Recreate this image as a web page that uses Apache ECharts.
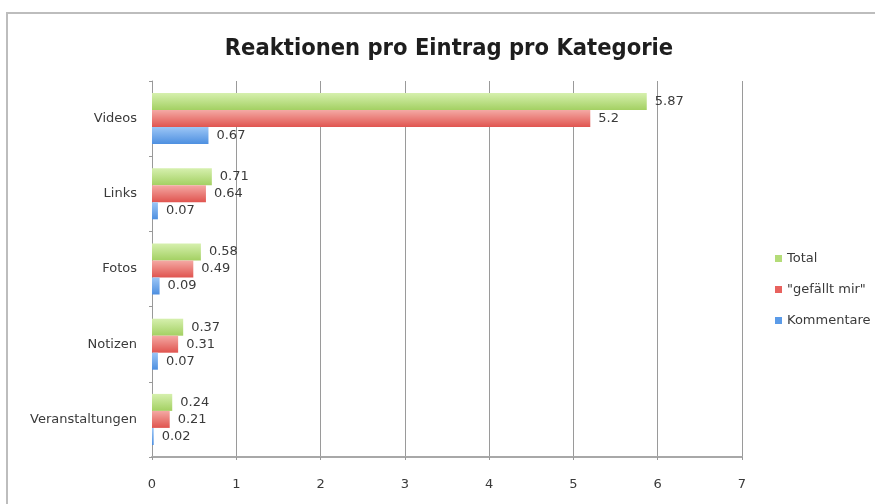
<!DOCTYPE html>
<html>
<head>
<meta charset="utf-8">
<script src="https://cdn.jsdelivr.net/npm/echarts@6/dist/echarts.min.js"></script>
<style>
  html, body { margin: 0; padding: 0; background: #fff; }
  #chart { width: 875px; height: 504px; }
</style>
</head>
<body>
<div id="chart"></div>
<script>
// Daten
const kategorien = ['Videos', 'Links', 'Fotos', 'Notizen', 'Veranstaltungen']
const total = [5.87, 0.71, 0.58, 0.37, 0.24]
const gefaellt = [5.2, 0.64, 0.49, 0.31, 0.21]
const kommentare = [0.67, 0.07, 0.09, 0.07, 0.02]
const serienNamen = ['Total', '"gefällt mir"', 'Kommentare']

const font = 'DejaVu Sans'

const verlauf = (hell, dunkel) => new echarts.graphic.LinearGradient(0, 0, 0, 1, [
  {offset: 0, color: hell},
  {offset: 1, color: dunkel}
])

const balken = (name, data, hell, dunkel) => ({
  name: name,
  type: 'bar',
  data: data,
  barWidth: 17,
  barGap: '0%',
  itemStyle: {color: verlauf(hell, dunkel)},
  label: {
    show: true,
    position: 'right',
    distance: 8,
    color: '#3a3a3a',
    fontFamily: font,
    fontSize: 13
  }
})

const chart = echarts.init(document.getElementById('chart'))
chart.setOption({
  animation: false,
  title: {
    text: 'Reaktionen pro Eintrag pro Kategorie',
    left: 444,
    textAlign: 'center',
    top: 32,
    textStyle: {fontFamily: 'DejaVu Sans Condensed', fontSize: 23.5, fontWeight: 'bold', color: '#1e1e1e'}
  },
  graphic: [{
    type: 'rect',
    shape: {x: 7, y: 13, width: 900, height: 600},
    style: {fill: 'none', stroke: '#bdbdbd', lineWidth: 2},
    silent: true
  }],
  legend: {
    orient: 'vertical',
    left: 770,
    top: 247,
    itemWidth: 7,
    itemHeight: 7,
    itemGap: 18,
    icon: 'rect',
    data: [
      {name: serienNamen[0], itemStyle: {color: '#b4dc78'}},
      {name: serienNamen[1], itemStyle: {color: '#e8625e'}},
      {name: serienNamen[2], itemStyle: {color: '#5b9be8'}}
    ],
    textStyle: {fontFamily: font, fontSize: 13, color: '#3a3a3a'}
  },
  grid: {left: 152, right: 133, top: 81, bottom: 47},
  xAxis: {
    type: 'value',
    min: 0,
    max: 7,
    interval: 1,
    axisLine: {show: true, lineStyle: {color: '#a8a8a8', width: 2}},
    axisTick: {show: true, length: 3, lineStyle: {color: '#999'}},
    axisLabel: {margin: 21, color: '#3a3a3a', fontFamily: font, fontSize: 13},
    splitLine: {show: true, lineStyle: {color: '#9a9a9a', width: 1}}
  },
  yAxis: {
    type: 'category',
    data: kategorien,
    inverse: true,
    axisLine: {show: true, lineStyle: {color: '#999'}},
    axisTick: {show: true, length: 3, lineStyle: {color: '#999'}},
    axisLabel: {margin: 15, color: '#3a3a3a', fontFamily: font, fontSize: 13}
  },
  series: [
    balken(serienNamen[0], total, '#d6f0ae', '#a3d062'),
    balken(serienNamen[1], gefaellt, '#f4a9a4', '#e0544f'),
    balken(serienNamen[2], kommentare, '#9cc6f6', '#4d8fe0')
  ]
})
</script>
</body>
</html>
